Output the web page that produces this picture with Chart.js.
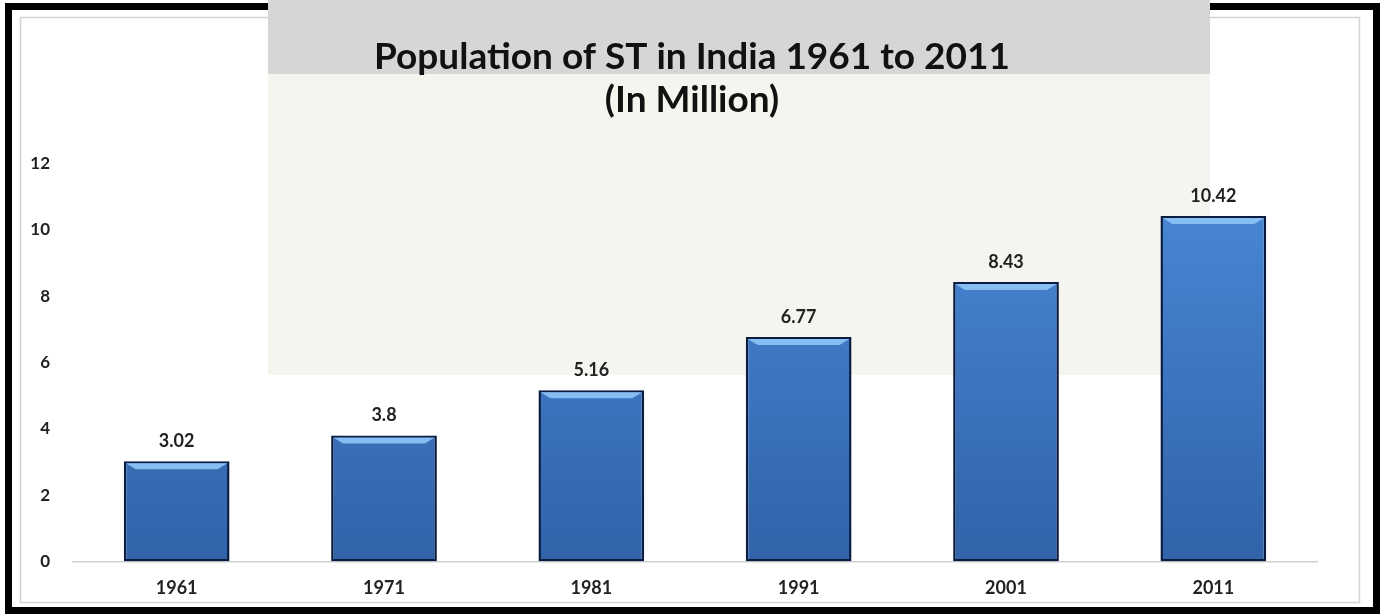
<!DOCTYPE html>
<html>
<head>
<meta charset="utf-8">
<script src="https://cdn.jsdelivr.net/npm/chart.js@4/dist/chart.umd.min.js"></script>
<style>
  html, body { margin: 0; padding: 0; background: #fff; }
  #wrap { width: 1384px; height: 616px; }
</style>
</head>
<body>
<div id="wrap"><canvas id="chart" width="1384" height="616"></canvas></div>
<script>
// data
var years = ['1961', '1971', '1981', '1991', '2001', '2011'];
var stPopulation = [3.02, 3.8, 5.16, 6.77, 8.43, 10.42];
var yTicks = [0, 2, 4, 6, 8, 10, 12];
var titleLines = ['Population of ST in India 1961 to 2011', '(In Million)'];

var FONT = 'Lato, "Open Sans", sans-serif';

// frame + pale background panel behind the plot
var framePlugin = {
  id: 'frame',
  beforeDraw: function(chart) {
    var ctx = chart.ctx;
    ctx.save();
    ctx.fillStyle = '#fff';
    ctx.fillRect(0, 0, chart.width, chart.height);
    ctx.strokeStyle = '#000';
    ctx.lineWidth = 7;
    ctx.strokeRect(8.5, 6.5, 1368, 604);
    ctx.strokeStyle = '#d4d4d4';
    ctx.lineWidth = 1.5;
    ctx.strokeRect(20.5, 17.5, 1339, 585);
    // pale panel
    ctx.fillStyle = '#d6d6d6';
    ctx.fillRect(268, 0, 942, 74);
    ctx.fillStyle = '#f5f5ef';
    ctx.fillRect(268, 74, 942, 301);
    ctx.restore();
  }
};

// bevel highlight on bar tops and value labels
var barLabels = {
  id: 'barLabels',
  afterDatasetsDraw: function(chart) {
    var ctx = chart.ctx;
    var meta = chart.getDatasetMeta(0);
    ctx.save();
    meta.data.forEach(function(bar, i) {
      var half = bar.width / 2;
      var l = bar.x - half + 2, r = bar.x + half - 2, t = bar.y + 2;
      ctx.fillStyle = '#86bdf2';
      ctx.beginPath();
      ctx.moveTo(l, t);
      ctx.lineTo(r, t);
      ctx.lineTo(r - 10, t + 6);
      ctx.lineTo(l + 10, t + 6);
      ctx.closePath();
      ctx.fill();

      ctx.fillStyle = '#222';
      ctx.font = 'bold 18px ' + FONT;
      ctx.textAlign = 'center';
      ctx.textBaseline = 'middle';
      ctx.fillText(String(stPopulation[i]), bar.x, bar.y - 20);
    });
    ctx.restore();
  }
};

function barGradient(context) {
  var chart = context.chart;
  var area = chart.chartArea;
  if (!area) return '#3f7bc8';
  var g = chart.ctx.createLinearGradient(0, area.top, 0, area.bottom);
  g.addColorStop(0, '#4a8ad9');
  g.addColorStop(1, '#3163a8');
  return g;
}

new Chart(document.getElementById('chart'), {
  type: 'bar',
  data: {
    labels: years,
    datasets: [{
      data: stPopulation,
      backgroundColor: barGradient,
      borderColor: '#0a1c42',
      borderWidth: 2.5,
      borderSkipped: false,
      categoryPercentage: 1,
      barPercentage: 0.51
    }]
  },
  options: {
    responsive: false,
    animation: false,
    layout: { padding: { top: 20, left: 0, right: 0, bottom: 1 } },
    plugins: {
      legend: { display: false },
      tooltip: { enabled: false },
      title: {
        display: true,
        text: titleLines,
        color: '#111',
        font: { family: FONT, size: 37, weight: 'bold', lineHeight: 1.17 },
        padding: { top: 15, bottom: 42 }
      }
    },
    scales: {
      x: {
        grid: { display: false, drawTicks: false },
        border: { display: true, color: '#d0d0d0', width: 1.5 },
        ticks: { color: '#222', padding: 16, font: { family: FONT, size: 18, weight: 'bold' } }
      },
      y: {
        min: 0,
        max: 12,
        afterBuildTicks: function(scale) {
          scale.ticks = yTicks.map(function(v) { return { value: v }; });
        },
        afterFit: function(scale) { scale.width = 73; },
        grid: { display: false, drawTicks: false },
        border: { display: false },
        ticks: { color: '#222', padding: 23, font: { family: FONT, size: 17, weight: 'bold' } }
      },
      // empty right-hand axis, only to leave the right margin so the title stays centred on the page
      yRight: {
        position: 'right',
        min: 0,
        max: 12,
        afterFit: function(scale) { scale.width = 67; },
        grid: { display: false, drawTicks: false },
        border: { display: false },
        ticks: { display: false }
      }
    }
  },
  plugins: [framePlugin, barLabels]
});
</script>
</body>
</html>
